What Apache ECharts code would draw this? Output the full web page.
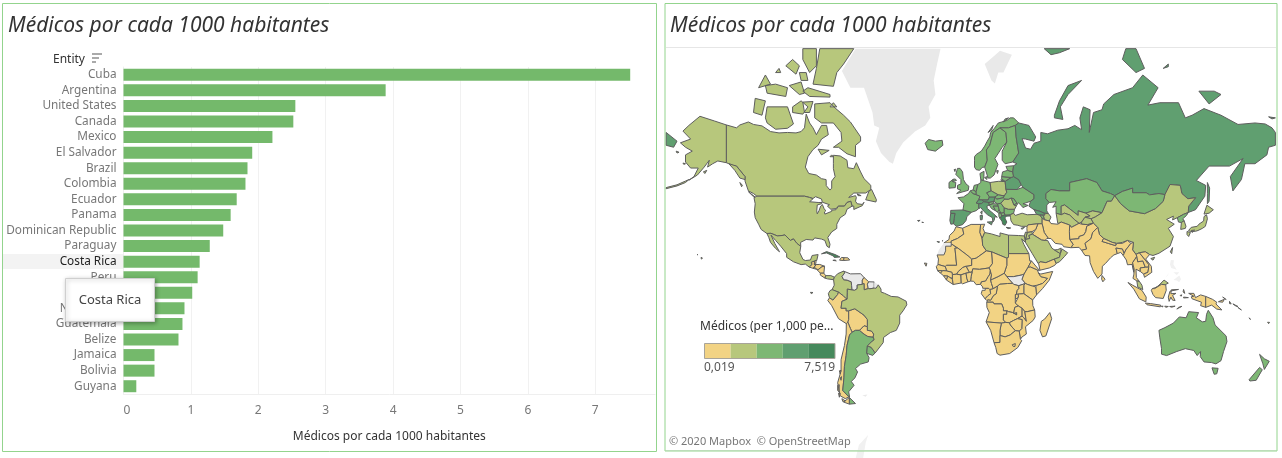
<!DOCTYPE html>
<html>
<head>
<meta charset="utf-8">
<style>html,body{margin:0;padding:0;background:#fff}#chart{width:1282px;height:458px}</style>
<script src="https://cdn.jsdelivr.net/npm/echarts@6/dist/echarts.min.js"></script>
</head>
<body>
<div id="chart"></div>
<script>
// Physicians per 1000 inhabitants, ranked
const entities = ['Cuba','Argentina','United States','Canada','Mexico','El Salvador','Brazil','Colombia','Ecuador','Panama','Dominican Republic','Paraguay','Costa Rica','Peru','Chile','Nicaragua','Guatemala','Belize','Jamaica','Bolivia','Guyana'];
const physicians = [7.519,3.89,2.55,2.52,2.21,1.91,1.84,1.81,1.68,1.59,1.48,1.28,1.13,1.10,1.02,0.905,0.875,0.816,0.46,0.46,0.19];

// Countries outside the ranking, grouped by the colour band they fall in
const bandOneNames = ['Honduras','Haiti','Morocco','Mauritania','Algeria','Tunisia','Sudan','Eritrea','Ethiopia','Somalia','Kenya','Uganda','Tanzania','Rwanda','DR Congo','Congo','Gabon','Cameroon','Central African Rep.','Chad','Niger','Nigeria','Mali','Burkina Faso','Senegal','Guinea-Bissau','Guinea','Sierra Leone','Liberia','Ivory Coast','Ghana','Benin','Angola','Zambia','Malawi','Mozambique','Zimbabwe','Botswana','Namibia','South Africa','Lesotho','Madagascar','Cape Verde','Iran','Iraq','Syria','Afghanistan','Pakistan','India','Nepal','Bangladesh','Sri Lanka','Myanmar','Thailand','Laos','Cambodia','Vietnam','Indonesia','Papua New Guinea','Yemen'];
const bandOneValues = [0.31,0.23,0.73,0.18,1.19,1.27,0.41,0.06,0.1,0.03,0.2,0.17,0.04,0.13,0.07,0.12,0.36,0.09,0.06,0.05,0.05,0.38,0.13,0.05,0.07,0.13,0.08,0.03,0.04,0.23,0.1,0.06,0.21,0.12,0.04,0.07,0.21,0.53,0.42,0.91,0.07,0.14,0.78,1.16,0.82,1.22,0.28,0.98,0.78,0.65,0.53,0.96,0.68,0.81,0.5,0.17,1.19,0.38,0.07,0.31];
const bandTwoNames = ['Libya','Egypt','Turkey','Saudi Arabia','Oman','United Arab Emirates','Uzbekistan','Turkmenistan','Kyrgyzstan','Tajikistan','Jordan','China','Japan','South Korea','Taiwan','Malaysia','Poland','Romania','Israel','Azerbaijan','Fiji','Solomon Islands','Vanuatu'];
const bandTwoValues = [2.16,2.38,1.85,2.61,1.97,2.53,2.37,2.27,1.88,1.7,2.34,1.98,2.41,2.36,2.2,1.54,2.38,2.67,2.95,2.9,1.6,1.55,1.6];
const bandThreeNames = ['Uruguay','Australia','New Zealand','United Kingdom','Ireland','Iceland','Norway','Sweden','Finland','Denmark','Germany','France','Belgium','Netherlands','Kazakhstan','Mongolia','North Korea','Ukraine','Estonia','Latvia','Lithuania','Czechia','Slovakia','Hungary','Slovenia','Croatia','Bosnia','Serbia','Bulgaria','Moldova','Armenia','Albania','North Macedonia','Montenegro','Cyprus'];
const bandThreeValues = [3.9,3.5,3.03,3.16,3.31,3.82,4.4,3.98,3.81,4.01,4.19,3.27,3.32,3.61,3.98,3.26,3.67,3.05,3.4,3.2,4.4,3.69,3.42,3.31,3.09,3.05,3.1,3.11,3.99,3.1,3.05,3.1,3.05,3.05,3.1];
const bandFourNames = ['Russia','Spain','Portugal','Italy','Switzerland','Austria','Belarus','Georgia'];
const bandFourValues = [4.6,4.6,4.7,4.55,4.6,5.2,5.19,5.1];
const bandFiveNames = ['Greece'];
const bandFiveValues = [6.2];
// Land with no reported figure; the bordered ones sit between reporting neighbours
const noDataNames = ['Greenland','Svalbard','Western Sahara','South Sudan','Venezuela','Suriname','French Guiana','Philippines','Falkland Islands','Antarctica'];
const noDataBordered = ['South Sudan','Venezuela','Suriname'];
const noDataFaint = ['Philippines','Antarctica'];

// Colour ramp and the figures printed under it
const rampColors = ['#F2D384','#B7C77C','#7DB774','#609F70','#46895C'];
const rampBreaks = [0.019,1.519,3.019,4.519,6.019,7.519];
const rampLabels = ['0,019','7,519'];

// Country outlines in lon/lat; each string is one ring
const outlines = {
'Greenland':['-73 78.2,-68 76,-60 76,-55 72,-54 69.5,-51 69,-53 66,-50 63,-45 60.5,-43 60,-41 63,-37 65.7,-30 68.2,-24 69.5,-21 71,-22 73,-18 75,-19 77,-17 79,-15 80.6,-65 80.6'],
'Svalbard':['11 79,15 77,17 76.6,19 78,22 78,27 80,20 80.4,16 79.8'],
'Antarctica':['-57.5 -64,-59 -66,-62 -72.3,-67 -72.3,-63 -66.5'],
'Canada':[
'-141 69.6,-135 69,-133 69.6,-128 70.2,-125 69.7,-120 69.4,-115 68.2,-110 67.9,-105 68,-100 67.9,-97 68.2,-95 69,-94 71.7,-92 70,-90 69,-88 67.5,-85 69.5,-82 69.5,-81 67.5,-85 66.5,-87 65,-90 63.9,-93 62,-94.5 59,-92.5 57,-88 56.5,-85 55.3,-82.3 55,-82.2 52.9,-80 51.3,-79 52,-79 54.5,-77 56,-78 58.5,-78 60,-78 62.4,-74 62.2,-70 61,-69.5 58.8,-66 58.5,-64.5 60.3,-62 57.5,-60 55.3,-56 53,-56 51.5,-59 50.2,-66 50.2,-69 48.5,-65 49.2,-64.5 48.5,-65 47,-64 46,-61 45.7,-60 46.6,-61 45.2,-66 43.6,-66 45,-67 45,-67.8 47,-70 46.5,-71.5 45,-75 45,-76.5 44,-79.5 43.7,-81.5 45,-80.3 45.6,-84.5 46.6,-85 47.9,-88.5 48.8,-90 48.1,-92 48.5,-95 49,-123 49,-125 50,-128 51,-130 54.5,-130 56,-135 59.3,-137 59.5,-139.5 60,-141 60.3',
'-65 62,-70 62.8,-75 64.5,-78 64.5,-73 66,-73.5 68,-78 70,-85 70,-89 71,-89 73.5,-80 73.7,-77 72.8,-72 71.5,-68 70.2,-62 67,-62 66,-65 65',
'-117 70,-112 68.7,-105 68.9,-101.5 69.8,-105 73,-110 73,-117 73,-118 71',
'-125 72,-120 71.5,-118 74,-124 74.4',
'-117 75.2,-106 74.7,-105 76,-112 76.5,-118 76.3',
'-102 72,-96 71.7,-93 73,-97 74,-102 73',
'-96 73.8,-90 73.9,-92 72,-95 72',
'-93 76,-80 75,-80 74.6,-92 74.7,-96 75.5',
'-90 76.5,-78 76.2,-76 78,-72 79,-66 80.6,-86 80.6,-88 78.5',
'-96 80.6,-88 80.6,-88 78.8,-92 78,-96 79.5',
'-87 64,-80.5 63.7,-85 62.5',
'-104 76.3,-98 75,-95 75.2,-97 76.8',
'-122 76,-115 76.5,-118 77.7',
'-106 78.8,-100 77.8,-98 78.8,-102 79.5',
'-98 78,-94 78,-93 77,-97 77',
'-112 78,-109 78,-110 78.5',
'-80 73,-76 73,-78 73.7',
'-59 47.6,-53 46.7,-52.7 47.6,-55.5 51.5,-57 51',
'-128 50.7,-123.5 48.4,-125 48.8',
'-133 54,-131.5 53,-132 52.5',
'-64 49.9,-61.7 49.2,-63.5 49.2',
'-79 62.5,-78 62,-80 62'],
'United States':[
'-95 49,-123 49,-124.7 48.4,-124 46,-124.5 42.5,-124 40,-122 37,-120.5 34.5,-117.1 32.5,-114.7 32.6,-111 31.3,-108.2 31.5,-106.5 31.8,-103.3 29,-101.5 29.8,-99.5 27.5,-97.2 25.9,-97.3 28,-94 29.5,-90 29.2,-89 30.3,-85 29.7,-83 29,-81.8 26,-80.4 25.2,-80 27,-81.3 30.5,-79 33.3,-76 35,-76 37,-74 40,-71 41.5,-70 43.7,-67 45,-67.8 47,-70 46.5,-71.5 45,-75 45,-76.5 43.5,-79 43.3,-79 42.8,-83 41.6,-83.3 42.5,-82.5 43,-83.5 44,-84.5 45.7,-85.5 45,-86.5 43,-87.5 41.7,-87.8 43,-87.5 45.5,-85 46,-84.7 46.5,-87 46.5,-90 46.7,-92 46.8,-90 48,-92 48.5',
'-141 69.6,-141 60.3,-146 60.8,-149 60,-152 59,-151 61,-154 59,-158 56.5,-163 54.8,-160 56,-157.5 58.7,-162 58.7,-165 60.5,-165 62.5,-161 63.5,-165 64.5,-168 65.6,-162 66.5,-166.5 68.3,-163 69.5,-156.5 71.3,-148 70.4',
'-139.5 60,-135 59.3,-130 56,-130 55,-133 55.5,-136 58',
'-154.5 57.5,-152.5 58,-153.5 57',
'-176.4 51.8,-170 52.8,-165 54,-163 55,-165 54.5,-170 53.2,-176.4 52.2',
'-155.8 20,-155 19.5,-155.7 19',
'-158.2 21.5,-157.7 21.4,-158 21.2',
'-170.5 63.5,-168.8 63.2,-170 63',
'-166.5 60.2,-165 60,-166 59.8'],
'Mexico':['-117.1 32.5,-114.7 32.6,-111 31.3,-108.2 31.5,-106.5 31.8,-103.3 29,-101.5 29.8,-99.5 27.5,-97.2 25.9,-97.8 22.5,-95.9 18.8,-94.5 18.2,-91.5 18.5,-90.5 21,-87 21.5,-87.8 18.2,-89.1 17.9,-91 17.2,-90.5 16,-92.2 14.5,-94.5 16.2,-97 15.9,-101.5 17.5,-105.5 20,-105.5 22,-109 26,-112 29,-114.7 31.7,-112.5 27.5,-110.3 24,-109.7 23,-112 24.8,-115 28,-116 30.5'],
'Guatemala':['-92.2 14.5,-90.5 16,-91 17.2,-89.1 17.9,-89.2 15.9,-88.3 15.7,-89.3 14.4,-90 13.8'],
'Belize':['-89.1 17.9,-88.2 18.4,-88.3 16.5,-89.2 15.9'],
'El Salvador':['-90 13.8,-89.3 14.4,-87.8 13.9,-87.8 13.2'],
'Honduras':['-89.2 15.9,-86 16,-83.2 15,-84.7 14.7,-87 13,-87.8 13.4,-87.8 13.9,-89.3 14.4,-88.3 15.7'],
'Nicaragua':['-87 13,-84.7 14.7,-83.2 15,-83.6 11,-85.7 11,-87.5 12.9'],
'Costa Rica':['-85.7 11,-83.6 11,-82.6 9.6,-82.9 8.1,-85.7 9.9'],
'Panama':['-82.9 8.1,-82.6 9.6,-79.5 9.6,-77.4 8.7,-77.9 7.2,-80 7.5,-81.5 7.7'],
'Cuba':['-85 21.9,-82 23.1,-77 21.5,-74.2 20.2,-77.5 19.9,-78 20.7,-82 22.4'],
'Haiti':['-74.4 18.4,-72 18.2,-71.7 19.8,-73.3 19.9'],
'Dominican Republic':['-71.7 19.8,-72 18.2,-68.4 18.5,-69.5 19.7'],
'Jamaica':['-78.3 18.3,-76.3 18,-77 18.5'],
'Colombia':['-77.4 8.7,-75.5 10.7,-72 12.2,-71.3 11.2,-72.9 9.1,-72 7.2,-70 7,-67.5 6,-67.3 3.9,-67 1.2,-69.8 1.7,-69.8 -0.5,-69.9 -4.2,-70.7 -3.8,-72 -2.4,-75 -0.1,-78.8 1.4,-77.5 4,-77.9 7.2'],
'Venezuela':['-72 12.2,-68 10.6,-62 10.7,-60 8.5,-61 7,-61 4.5,-64 4.1,-64 2,-65.5 1,-67 1.2,-67.3 3.9,-67.5 6,-70 7,-72 7.2,-72.9 9.1,-71.3 11.2'],
'Guyana':['-60 8.5,-57.2 6,-58 4.6,-57.5 2,-59.9 1.3,-60 5,-61 4.5,-61 7'],
'Suriname':['-57.2 6,-54 5.9,-54 2.3,-56.5 1.9,-57.5 2,-58 4.6'],
'French Guiana':['-54 5.9,-51.6 4.2,-52.9 2.2,-54 2.3'],
'Ecuador':['-78.8 1.4,-75 -0.1,-75.5 -1.5,-78.3 -4.8,-80.3 -3.4,-81 -1,-80 0.8','-91.5 -0.2,-90 -0.3,-91 -1'],
'Peru':['-75 -0.1,-72 -2.4,-70.7 -3.8,-69.9 -4.2,-73 -5.5,-73.5 -9.5,-70.5 -9.5,-70.5 -11,-69 -11,-69 -16,-69.5 -17.5,-70.4 -18.3,-75 -15.5,-79 -8,-81.3 -5,-80.3 -3.4,-78.3 -4.8,-75.5 -1.5'],
'Bolivia':['-69 -11,-65.4 -9.8,-60 -13.5,-58 -16,-58 -20,-60 -19.5,-62.6 -22,-65 -22,-67 -23,-68 -21,-69.5 -17.5,-69 -16'],
'Chile':['-70.4 -18.3,-69.5 -17.5,-68 -21,-67 -23,-68.5 -24.5,-70 -30,-70.5 -35,-71.5 -40,-71.8 -45,-72.5 -50,-69.5 -52,-68.5 -52.3,-71 -53,-74 -52,-75.5 -47,-73.5 -42,-73.5 -37,-71.5 -30,-70.5 -24','-68.6 -52.6,-68.6 -54.9,-72 -54.2','-74.5 -42,-73.5 -41.8,-74 -43.4','-75.5 -48,-74.5 -47.8,-74.8 -50.5,-75.5 -50','-74 -45,-73.2 -44.5,-73.5 -46','-73 -53,-71 -53.8,-72.5 -54','-75 -51,-74 -51,-74.5 -52.5'],
'Argentina':['-67 -23,-65 -22,-62.6 -22,-60 -24,-57.7 -25.3,-54.6 -25.6,-54 -27,-55.8 -28.3,-58 -30.2,-58.4 -33.9,-57 -36,-57.5 -38,-62 -39,-65 -41,-63.8 -42.5,-65.3 -45,-67.5 -46.5,-65.8 -48,-69 -50.5,-68.5 -52.3,-69.5 -52,-72.5 -50,-71.8 -45,-71.5 -40,-70.5 -35,-70 -30,-68.5 -24.5','-68.6 -52.6,-65 -54.7,-68.6 -54.9'],
'Paraguay':['-62.6 -22,-60 -19.5,-58 -20,-58 -22,-55.7 -22.3,-54.3 -24,-54.6 -25.6,-57.7 -25.3,-60 -24'],
'Uruguay':['-58 -30.2,-55.8 -30.9,-53.4 -33.7,-54.9 -34.9,-58.4 -33.9'],
'Brazil':['-60 5,-59.9 1.3,-57.5 2,-56.5 1.9,-54 2.3,-52.9 2.2,-51.6 4.2,-50 1.7,-50 0,-48 -0.7,-44 -2.6,-40 -2.9,-35.2 -5.4,-34.8 -7.5,-37 -11,-39 -13.5,-39 -18,-41 -22,-44.5 -23.2,-48.5 -25.8,-48.7 -28.5,-53.4 -33.7,-55.8 -30.9,-58 -30.2,-55.8 -28.3,-54 -27,-54.6 -25.6,-54.3 -24,-55.7 -22.3,-58 -22,-58 -20,-58 -16,-60 -13.5,-65.4 -9.8,-69 -11,-70.5 -11,-70.5 -9.5,-73.5 -9.5,-73 -5.5,-69.9 -4.2,-69.8 -0.5,-69.8 1.7,-67 1.2,-65.5 1,-64 2,-64 4.1,-61 4.5'],
'Falkland Islands':['-61 -51.8,-58 -51.5,-59 -52.3'],
'Iceland':['-24 65.5,-22 66.4,-18 66,-14 66.2,-13.6 65,-18 63.5,-22.5 63.9'],
'United Kingdom':['-5.5 50,1.3 51.2,1.7 52.7,0 53.5,-1.5 55,-2 57.5,-3.5 58.6,-5 58.6,-6 56.7,-3 55,-3 53.5,-5 53,-5 51.7,-3 51.3','-8 54.3,-5.6 54.7,-6.3 55.2,-7.5 55.1','-7 58.2,-6.2 58.4,-6.5 57.6'],
'Ireland':['-10 52,-6.3 52.2,-6 54,-8 54.3,-7.5 55.1,-10 54'],
'Spain':['-9 43.2,-1.8 43.4,3.2 42.4,0.5 40.5,0 38.7,-2 36.8,-5.5 36,-7.4 37.2,-7 39.5,-6.5 41.9,-9 41.9','-17 28.5,-15.5 28.2,-16.5 28','-14 28.7,-13.5 29,-14 28.2'],
'Portugal':['-9 41.9,-6.5 41.9,-7 39.5,-7.4 37.2,-8.9 37,-9.5 38.7','-28.5 38.7,-27 38.8,-28 38.3','-26 37.9,-25 37.8,-25.5 37.6'],
'France':['-1.8 43.4,-1.2 46,-4.7 48.4,-1.5 48.7,1.5 50,2.5 51,4.2 50,6 49.6,8.2 49,7.5 47.6,6 46.3,7.5 46,7.5 44,6 43.1,3.2 42.4','8.6 42.5,9.5 43,9.3 41.5'],
'Belgium':['2.5 51,4.2 51.4,6 50.7,6 49.6,4.2 50'],
'Netherlands':['4.2 51.4,4.8 53,7 53.3,6 50.7'],
'Germany':['6 50.7,7 53.3,8.7 54,8.7 55,10 54.7,14.2 54,14.8 51,12.2 50.3,13.8 48.7,13 47.5,7.5 47.6,8.2 49,6 49.6'],
'Denmark':['8.7 55,8.2 57,10.6 57.7,10.5 55.5,10 54.7','11 55.7,12.5 56,12.2 55'],
'Switzerland':['6 46.3,7.5 47.6,9.6 47.5,10.4 46.8,9 46,7.5 46'],
'Austria':['9.6 47.5,13 47.5,13.8 48.7,17 48.7,16.5 46.9,13.5 46.5,10.4 46.8'],
'Italy':['7.5 46,9 46,10.4 46.8,13.5 46.5,13.7 45.5,12.3 45,12.5 44,16 41.9,18.4 40.2,17 40.5,16.6 38.9,15.8 38,15.5 40,12.5 41.4,10.3 43,8.7 44.4,7.5 44','12.5 38,15.6 38.2,15 36.7','8.3 41,9.7 41,9.5 39.1,8.5 39'],
'Poland':['14.2 54,19 54.4,23 54.4,23.5 51.6,24 50.5,22.5 49.1,19 49.5,14.8 51'],
'Czechia':['12.2 50.3,14.8 51,19 49.5,17 48.7,13.8 48.7'],
'Slovakia':['17 48.7,19 49.5,22.5 49.1,22 48.4,18 47.8'],
'Hungary':['16.5 46.9,17 48.7,18 47.8,22 48.4,22.8 47.9,20.5 46.2,18.5 45.9'],
'Slovenia':['13.7 45.5,13.5 46.5,16.5 46.9,16 46'],
'Croatia':['13.7 45.5,16 46,18.5 45.9,19 45,16 45,17.5 43,15 44'],
'Bosnia':['16 45,19 45,19.5 43.5,18.5 42.5,17.5 43'],
'Serbia':['19 45,18.5 45.9,20.5 46.2,22.5 44.3,22.5 42.2,20.6 42,20 42.6,19.5 43.5'],
'Montenegro':['18.5 42.5,19.5 43.5,20 42.6,19.3 41.9'],
'Albania':['19.3 41.9,20.6 42,21 40.8,20 39.7,19.4 40.5'],
'North Macedonia':['20.6 42,22.5 42.2,23 41.2,21 40.8'],
'Greece':['20 39.7,21 40.8,23 41.2,26 41.3,26 40.8,24 40.7,22.8 40,24 38,23 36.5,21.7 36.9,21.2 38.3','23.6 35.5,26.3 35.2,24.8 34.9'],
'Bulgaria':['22.5 42.2,22.5 44.3,25 43.7,28.6 43.7,28 42,26 41.3,23 41.2'],
'Romania':['20.5 46.2,22.8 47.9,24.9 47.8,26.6 48.3,28.2 45.5,29.7 45.2,28.6 43.7,25 43.7,22.5 44.3'],
'Moldova':['26.6 48.3,28.2 48,30 46.2,28.2 45.5'],
'Ukraine':['24 50.5,23.5 51.6,30 51.5,33.5 52.3,40 49.6,40 48,38 47,35 46.3,33.5 46,36.5 45.3,33.5 44.4,32.5 45.3,30.8 46.4,29.7 45.2,28.2 45.5,30 46.2,28.2 48,26.6 48.3,24.9 47.8,22.8 47.9,22 48.4,22.5 49.1'],
'Belarus':['23.5 51.6,23 54.4,26.5 55.7,28 56,31 55,32.5 53.2,30 51.5'],
'Lithuania':['21 56,26.5 55.7,23 54.4,21 55.2'],
'Latvia':['21 56,21.5 57.5,24.5 58,27.5 57.5,28 56,26.5 55.7'],
'Estonia':['23.5 59.2,28 59.4,27.5 57.5,24.5 58'],
'Norway':['5 61,5 59,6 58.2,8 58,9.5 58.9,11 59,12.5 61,12 63.8,14 65,16 68,20 69,25 69,29 69.5,31 70,28 71,26 71,24 70.5,21 70.2,19 70,16.5 68.8,14.5 68,14 67,12.5 66,11 64.8,9 63.5,6 62.6,5 62','16 69.5,15 68.5,13 68','23 70.8,25 71,22 70.2'],
'Sweden':['11 59,13 55.5,14.3 55.5,16.5 56.5,18.8 59.8,17 61.5,21.3 64.5,24 65.8,23.5 68,20 69,16 68,14 65,12 63.8,12.5 61','18 57.9,19 57.9,18.5 57'],
'Finland':['24 65.8,21.3 63.5,21.3 61,23 60,27.5 60.5,31 63,29.5 67,29 69.5,25 69,20 69,23.5 68'],
'Russia':[
'31 70,37 69.5,41 67,40 66,35 66.5,33 66.6,35 64.3,38 64,40 65.5,44 66,44 68,48 67.7,54 68.5,60 68.8,64 69.5,68 68.6,67 71,69 73,73 72.5,72.5 68,75 72,80 72.5,81 73.5,87 75,98 76,104 77.7,113 76,107 73.3,114 73.7,125 73.7,129 71,133 71.5,140 72.7,150 71.5,160 69.7,170 70,176 69.8,180 69,182 68,182 65,178 64.5,177 62.5,170 60,164 60,163 57.5,162 55,157 51,155.5 56,163 61.5,155 59.3,143 59.3,135.5 54.7,141 53,140.5 49,135 43.5,130.7 42.3,131 45,135 48.4,130.5 48,127 50,126 53,120 53.3,117 49.6,113.5 50,108 49.5,106 50.3,98 50.3,98 52,92 50.8,87.5 49.2,85 50,80 51,77 54,71 55.3,61 54,61 51,55 51,50 51.5,47 50,47 48,49 46.5,47.5 45.5,47.5 43,48.5 41.8,46 42,43.5 42.8,40 43.5,37 45,38 47,40 48,40 49.6,33.5 52.3,32.5 53.2,31 55,28 56,27.5 57.5,28 59.4,30 60,27.5 60.5,31 63,29.5 67,29 69.5',
'-176.4 68,-170 66,-172 64.5,-176.4 65',
'52 71,57 70.7,55.5 73,60 75,68 77,60 76.3,55 74,52 71.5',
'142 54,143.3 52,143 47,142 46,142 50',
'92 79.5,100 78,105 78.5,100 80.6,94 80.6',
'46 80.6,50 80,55 80.2,61 80.6',
'137 75.5,143 73.5,150 75,146 75.5',
'178 71.2,182 71,180 70.8',
'20.5 55,22.7 54.4,21 54.4',
'119 79,116 78.5,119 78.7'],
'Cyprus':['32.3 35,34.5 35.6,33 34.6'],
'Turkey':['26 40.8,26 41.3,28 42,29 41,33 42,36 41.3,41.5 41.5,43.5 41.2,44.8 39.7,44.8 37.2,42.3 37.2,36.5 36.7,36 36,32.5 36,30.5 36.5,28 36.8,26.5 38.5,26.2 40'],
'Georgia':['40 43.5,43.5 42.8,46 42,46.5 41.2,43.5 41.2,41.5 41.5'],
'Armenia':['43.5 41.2,45.5 41,46.3 39,44.8 39.7'],
'Azerbaijan':['46 42,48.5 41.8,50 40.3,49 38.5,46.3 39,45.5 41,46.5 41.2'],
'Kazakhstan':['47 50,50 51.5,55 51,61 51,61 54,71 55.3,77 54,80 51,85 50,87.5 49.2,85.5 47,83 47,80 42.2,74.5 43,70.5 42,66 43,66 41,58 45.5,56 45,56 41.3,53 42,53 45,51 44.5,53 46.8,49 46.5,47 48'],
'Uzbekistan':['56 41.3,56 45,58 45.5,66 41,66 43,70.5 42,73 40.8,70 40.2,68 38,66.5 37.4,64 39,61 41.2,58 42'],
'Turkmenistan':['53 42,56 41.3,58 42,61 41.2,64 39,66.5 37.4,62 35.5,61 36.6,56 38,54 37.3,53.5 39.8,53 40'],
'Kyrgyzstan':['70.5 42,74.5 43,80 42.2,76 40.3,73.6 39.5,70 40.2,73 40.8'],
'Tajikistan':['68 38,70 40.2,73.6 39.5,75 37.5,71.5 36.8,68 37'],
'Afghanistan':['61 36.6,62 35.5,66.5 37.4,68 37,71.5 36.8,75 37.5,71 36,70.5 33.5,69.3 31.8,66.5 31,66.4 29.9,61 29.5,60.8 33.5'],
'Pakistan':['61 29.5,66.4 29.9,66.5 31,69.3 31.8,70.5 33.5,71 36,75 37.5,77.5 35.5,74.5 33,73.5 29.9,70 27.5,71 24.5,68 23.8,66.5 25.4,61.7 25.2,63 27'],
'Iran':['44.8 39.7,46.3 39,49 38.5,50 37.3,54 37,56 38,61 36.6,60.8 33.5,61 29.5,63 27,61.7 25.2,57.5 25.7,56.5 27,52.5 27.5,50 30,48.5 30,46 33,44.8 37.2'],
'Iraq':['42.3 37.2,44.8 37.2,46 33,48.5 30,47.5 30,46.5 29,44.5 29.2,39 32.2,41 34.5'],
'Syria':['36 36,36.5 36.7,42.3 37.2,41 34.5,38.8 33.4,36 33,35.8 35'],
'Jordan':['39 32.2,38.8 33.4,36 33,35 29.5,37.5 30,37 31.5'],
'Israel':['34.3 31.3,35 33.2,36 33,35 29.5'],
'Saudi Arabia':['37 31.5,37.5 30,35 29.5,35 28,39 22,42.5 16.5,43.5 17.5,47 17,52 19,55 20,55.5 22,52 24,50.5 25,48 29,46.5 29,44.5 29.2,39 32.2'],
'Yemen':['42.7 16.5,43.5 12.7,49 14,52.2 15.5,53 16.6,52 19,47 17,43.5 17.5'],
'Oman':['52 19,53 16.6,55 17.5,58 20.5,59.8 22.5,56.5 24.5,56 25,55.5 22,55 20'],
'United Arab Emirates':['52 24,55.5 22,56 25,54 24.2'],
'China':['73.6 39.5,76 40.3,80 42.2,83 47,85.5 47,87.5 49.2,91 46,96 43,105 41.8,111.5 44,116 47,117 49.6,120 53.3,126 53,127 50,130.5 48,135 48.4,131 45,130.7 42.3,128 41.5,124.3 40,121.5 39,122 40.7,118 39.2,122.5 37,119 35,122 31,120 26,113.5 22.2,110 21,108 21.5,105.5 23,102 22.5,100 21.6,98 24,98.5 28,95 29,92 28,88.8 27.5,86 28,81 30,78.5 32,77.5 35.5,75 37.5','108.7 19.3,111 20,110 18.4'],
'Mongolia':['87.5 49.2,92 50.8,98 52,98 50.3,106 50.3,108 49.5,113.5 50,117 49.6,116 47,111.5 44,105 41.8,96 43,91 46'],
'North Korea':['124.3 40,128 41.5,130.7 42.3,129.7 41,127.5 39.5,128.3 38.6,126.7 37.8,125 38'],
'South Korea':['126.7 37.8,128.3 38.6,129.4 36,129 35,126.3 34.5'],
'Japan':['130.9 34,132.5 35.5,136 36,137 37,139.8 38.5,140 40.5,141.5 41.3,142 39.5,140.8 36,139 35,136.5 34,135 33.6,132 33.5','130 33.5,132 33,131 31,130 32','140 41.6,141.7 45.4,145.5 43.5,143 42','132.5 34,134.5 34.2,133 33'],
'Taiwan':['120.2 23,121.5 25.3,121 22'],
'India':['68 23.8,71 24.5,70 27.5,73.5 29.9,74.5 33,77.5 35.5,78.5 32,81 30,80 28.5,84 27.4,88 26.3,88.8 27.5,92 27.5,95 29,97 27.5,94 24,93 22,92 24.5,88.2 25,89 22,87 21.3,85 19.7,82 16.5,80.2 15,80 10.5,77.5 8,75 12,73 17,72.7 20.8,70 21'],
'Bangladesh':['88.2 25,92 24.5,93 22,92.5 21,91 22.7,89 22'],
'Nepal':['80 28.5,81 30,86 28,88.2 27.5,88 26.3,84 27.4'],
'Sri Lanka':['80 9.7,81.8 7.5,80.5 6,79.8 7.5'],
'Myanmar':['93 22,94 24,97 27.5,98.5 28,98 24,100 21.6,100.5 20.5,98 17,98.7 11.5,97.7 16,95 15.8,94.3 18.5,92.5 21'],
'Thailand':['98.7 10,98.2 8,100.5 6.5,102 6.2,100.2 8.5,100 13.3,102.5 12,102.5 14,105.5 14.4,104 18,101 17.5,100.5 20.5,98 17,99 13'],
'Laos':['100.5 20.5,100 21.6,102 22.5,105 19,107.5 16,107.5 14.5,105.5 14.4,104 18,101 17.5'],
'Cambodia':['102.5 12,104.5 10.5,107 11.5,107.5 14.5,105.5 14.4,102.5 14'],
'Vietnam':['102 22.5,105.5 23,108 21.5,105.7 19,109 15,109.3 11.5,105 8.6,104.5 10.5,107 11.5,107.5 14.5,107.5 16,105 19'],
'Malaysia':['100.5 6.5,102 6.2,103.5 4,104 1.4,101 3','109.6 2,111 2,115 4.5,117 4.2,119 5.2,116.5 7,113 3.5,111.2 2.5'],
'Indonesia':['95.3 5.6,98 4,103.5 1,106 -3,105.8 -5.8,102 -4,98.7 1.7','105.5 -6.5,108.6 -6.8,114.5 -7.7,114.3 -8.7,106.5 -7.5','109 1,109.6 2,111 2,115 4.5,117.5 4.2,117.8 1,116 -3.8,111.5 -3.3,110 -1.5','119.5 -5.5,120.5 -3,121.5 -4.8,123 -5,121.5 -2,123.5 -0.8,120.5 -1,120.8 1.3,125 1.5,120 0.5,119 -3','131 -0.8,134 -0.8,135 -3.3,138 -1.7,141 -2.6,141 -9,138 -8,138.5 -6,133 -4,132.5 -2.8,134 -2.5','124 -10,127 -8.4,125 -9','119.8 -8.5,123 -8.3,121 -8.9','116.9 -8.3,119 -8.5,117.5 -9','128 1.5,128.7 -0.8,127.7 0','128 -3,130.8 -3.3,128 -3.5','115 -8.2,116 -8.4,115.3 -8.8','126 -2,127 -1.7,126.5 -2.5'],
'Papua New Guinea':['141 -2.6,145 -4.3,147.5 -6,147 -7,150.5 -10.5,147.5 -10,144.5 -7.7,141 -9','148.5 -5.7,152 -4.3,151 -6','151 -3,153 -4.5,152 -3.5'],
'Solomon Islands':['155 -5.5,156 -7,155 -6.8','157 -7,160 -8.5,159 -8.4','160 -9,162 -10.5,161 -10'],
'Vanuatu':['166.6 -15,167.3 -16,166.8 -15.9'],
'Philippines':['120.5 18.5,122.3 18.4,122 16,124 13,120.7 14,120 16','122 7,125.5 9.7,126.5 7.5,125.4 5.7,124 6.7','122 11.5,125.5 11.5,124 10','117.2 8.3,119.5 11.3,118.5 9.5'],
'Fiji':['177.4 -17.5,178.6 -17.6,178 -18.3'],
'Australia':['113.5 -22,114 -26,115 -31.5,115 -34.3,118 -35,124 -33,129 -31.6,134 -32.5,136 -35,138 -33,137.8 -35.5,140 -38,144.5 -38.3,147 -38.9,150 -37.4,151.5 -33,153.5 -28,153 -25,146.5 -19,145.3 -15,142.5 -10.7,141.5 -13,141 -17,139 -17.3,135.5 -15,136.8 -12,131 -11.5,129.5 -15,125.5 -14.5,122 -18,117 -20.5','144.7 -40.7,148.3 -40.9,147.5 -43.3,146 -43.5'],
'New Zealand':['172.7 -34.4,175.5 -36.5,178.4 -37.7,175.5 -41.4,174.6 -38.8','172.7 -40.5,174.3 -41.5,170.7 -46,167 -46.3,166.5 -45.8'],
'Morocco':['-5.9 35.8,-2 35.1,-1.3 32.2,-5 30,-8.7 28.7,-8.7 27.7,-13 27.7,-10 29.5,-9.7 31.5,-7 33.7'],
'Western Sahara':['-8.7 27.7,-8.7 26,-12 26,-12 23.5,-13 21.3,-17 21.3,-16 24,-13 27.7'],
'Mauritania':['-17 21.3,-13 21.3,-12 23.5,-12 26,-8.7 26,-8.7 27.3,-4.8 25,-6.5 25,-5.5 15.5,-11.5 15.5,-12.2 14.8,-16.5 16,-16.2 19'],
'Algeria':['-2 35.1,3 36.9,8.6 36.9,8.2 33,9.5 30,9.8 26.5,12 23.5,6 19.5,3.3 19,1.2 20.8,-4.8 25,-8.7 27.3,-8.7 28.7,-5 30,-1.3 32.2'],
'Tunisia':['8.6 36.9,11 37,10 35,11 33,9.5 30,8.2 33'],
'Libya':['11 33,15 32.3,20 31,20 32.8,25 31.7,25 22,25 20,24 19.5,15 23,12 23.5,9.8 26.5,9.5 30'],
'Egypt':['25 31.7,31 31.5,34.3 31.3,35 28,32.7 29.8,34 27,37 22,25 22'],
'Sudan':['25 22,37 22,37.5 18,38.5 18,36.5 14.4,34.2 10.5,33 10,28 9,24 9,22.5 11,24 15.5,24 19.5,25 20'],
'South Sudan':['24 9,28 9,33 10,34.2 10.5,33 7.5,35 5,31 3.7,28 4.5,27.4 5.1'],
'Eritrea':['36.5 14.4,38.5 18,43.3 12.5,42 12.8,38 14.5'],
'Ethiopia':['34.2 10.5,36.5 14.4,38 14.5,42 12.8,42.7 11,44 9,48 8,45 5,42 4,39 3.5,36 4.5,35 5,33 7.5'],
'Somalia':['42.7 11,44 10.5,51 12,49 7,45 2,41.5 -1.7,41 3,42 4,45 5,48 8,44 9'],
'Kenya':['35 5,36 4.5,39 3.5,41 3,41.5 -1.7,39.2 -4.7,34 -1,34 4'],
'Uganda':['31 3.7,35 5,34 4,34 -1,29.6 -1.4,30 1,31 2'],
'Tanzania':['34 -1,39.2 -4.7,39.3 -8,40.4 -10.5,36 -11.5,34.6 -11.5,33 -9.5,30.7 -8.2,29 -6.5,30.8 -3,30.7 -1.2'],
'Rwanda':['29 -1.5,30.7 -1.2,30.8 -3,29 -4.4'],
'DR Congo':['12.2 -6,13 -4.5,14.5 -4.8,16.2 -2,17.8 -1,18.5 3.5,20 4.7,24.5 5,27.4 5.1,28 4.5,31 3.7,31 2,30 1,29.6 -1.4,29 -1.5,29 -4.4,29 -6.5,30.7 -8.2,28.7 -9,28 -12.5,29.8 -12,29.8 -13.4,27.5 -12,25 -11.5,24 -11,22 -11,22 -9.5,21 -7,16.5 -7,16 -6'],
'Congo':['11.2 -4,12.2 -5,13 -4.5,14.5 -4.8,16.2 -2,17.8 -1,18.5 3.5,16 2,14 1.5,14.5 -1,13 -2,12 -3'],
'Gabon':['9 -1,9.5 1,11.3 1,11.3 2.2,13.3 2.2,14 1.5,14.5 -1,13 -2,12 -3,11.2 -4'],
'Cameroon':['8.5 4.5,9.8 3,9.8 2.2,13.3 2.2,14 1.5,16 2,15 5,14.5 7,15 10,14.2 12.8,14 10.5,13 9,11.5 6.5,9 6'],
'Central African Rep.':['15 5,16 2,18.5 3.5,20 4.7,24.5 5,27.4 5.1,24 9,22.5 11,18.8 9,15.5 7.5,14.5 7'],
'Chad':['14.2 12.8,13.5 14,15.5 16.5,15 23,24 19.5,24 15.5,22.5 11,18.8 9,15.5 7.5,14.5 7,15 10'],
'Niger':['3.6 11.7,2 11.4,0 15,3.3 15.5,3.3 19,6 19.5,12 23.5,15 23,15.5 16.5,13.5 14,8 13.2,4 13.5'],
'Nigeria':['2.7 6.4,3 9,3.6 11.7,4 13.5,8 13.2,13.5 14,14.2 12.8,14 10.5,13 9,11.5 6.5,9 6,8.5 4.5,6 4.3,4.5 6.3'],
'Mali':['-12.2 14.8,-11.5 15.5,-5.5 15.5,-6.5 25,-4.8 25,1.2 20.8,3.3 19,3.3 15.5,0 15,-2 14.2,-4.5 12,-5.5 10.4,-8 10.2,-8.3 11.5,-11.4 12.3'],
'Burkina Faso':['-5.5 10.4,-4.5 12,-2 14.2,0 15,2 11.4,0 11,-3 10'],
'Senegal':['-17.5 14.7,-16.5 16,-12.2 14.8,-11.4 12.3,-13.7 12.5,-16.7 12.4'],
'Guinea-Bissau':['-16.7 12.4,-13.7 12.5,-15 11'],
'Guinea':['-13.7 12.5,-11.4 12.3,-8.3 11.5,-8 10.2,-7.8 8,-9.5 8.5,-10.7 9.3,-13.2 9.5,-15 11'],
'Sierra Leone':['-13.2 9.5,-10.7 9.3,-11.5 7'],
'Liberia':['-11.5 7,-10.7 9.3,-9.5 8.5,-8 7.5,-7.5 4.4'],
'Ivory Coast':['-8 7.5,-7.8 8,-8 10.2,-5.5 10.4,-3 10,-2.8 5.3,-7.5 4.4'],
'Ghana':['-3 10,0 11,0.5 8,1.2 6,-2 4.8,-2.8 5.3'],
'Benin':['0 11,2 11.4,3.6 11.7,3 9,2.7 6.4,1.2 6,0.5 8'],
'Cape Verde':['-24.5 16.8,-23 16.6,-23.5 15'],
'Angola':['12.2 -6,16 -6,16.5 -7,21 -7,22 -9.5,22 -11,24 -11,24 -13,22 -13,22 -16.2,23.4 -17.6,20.8 -18,11.8 -17.3,13.7 -12,12.3 -9'],
'Zambia':['22 -13,24 -13,24 -11,25 -11.5,27.5 -12,29.8 -13.4,29.8 -12,28 -12.5,28.7 -9,30.7 -8.2,33 -9.5,33 -14,30.2 -15.5,28 -16.5,25.5 -17.8,23.4 -17.6,22 -16.2'],
'Malawi':['33 -9.5,34.6 -11.5,35 -14,35.5 -17,34 -15,33 -14'],
'Mozambique':['40.4 -10.5,36 -11.5,34.6 -11.5,35 -14,35.5 -17,34 -15,33 -14,30.2 -15.5,33 -16,32.8 -21,31.3 -22.4,32 -26.8,33 -25.5,35.5 -24,35 -20,39.5 -16.5,40.7 -14.5'],
'Zimbabwe':['25.5 -17.8,28 -16.5,30.2 -15.5,33 -16,32.8 -21,31.3 -22.4,29 -22.2,26 -19'],
'Botswana':['20 -22,20.8 -18,23.4 -17.6,25.5 -17.8,26 -19,29 -22.2,26 -24.5,23 -25.5,20 -24.8'],
'Namibia':['11.8 -17.3,20.8 -18,20 -22,20 -28.4,16.5 -28.6,14.5 -22'],
'South Africa':['16.5 -28.6,20 -28.4,20 -24.8,23 -25.5,26 -24.5,29 -22.2,31.3 -22.4,32 -26.8,32.8 -27.5,30.5 -31,25.7 -34,20 -34.8,18.3 -34,17.5 -31'],
'Lesotho':['27.2 -29.6,29 -29,28.8 -30.5,27.8 -30.5'],
'Madagascar':['49.3 -12,50.4 -15.5,47 -25,45 -25.5,43.5 -22,44.3 -17,46.3 -15.7']
};

// Outline strings become GeoJSON features, closing every ring
const closeRing = text => {
  const pts = text.split(',').map(p => p.trim().split(/\s+/).map(Number));
  pts.push(pts[0]);
  return pts;
};
const worldGeo = {
  type: 'FeatureCollection',
  features: Object.keys(outlines).map(name => ({
    type: 'Feature',
    properties: { name },
    geometry: { type: 'MultiPolygon', coordinates: outlines[name].map(r => [closeRing(r)]) }
  }))
};
echarts.registerMap('world', worldGeo);

// Web Mercator in degrees
const DEG = Math.PI / 180;
const mercator = {
  project: p => [p[0], -Math.log(Math.tan(Math.PI / 4 + p[1] * DEG / 2)) / DEG],
  unproject: p => [p[0], (2 * Math.atan(Math.exp(-p[1] * DEG)) - Math.PI / 2) / DEG]
};

// Pixels per degree and the screen box the map occupies
const mapScale = 1.7, lon0X = 966, equatorY = 292;
const mapBox = { left: 666, top: 48, width: 612, height: 402 };
const boxTopLeft = mercator.unproject([(mapBox.left - lon0X) / mapScale, (mapBox.top - equatorY) / mapScale]);
const boxBottomRight = mercator.unproject([(mapBox.left + mapBox.width - lon0X) / mapScale, (mapBox.top + mapBox.height - equatorY) / mapScale]);

const zipValues = (names, values) => names.map((name, i) => ({ name, value: values[i] }));
const mapData = [
  ...zipValues(entities, physicians),
  ...zipValues(bandOneNames, bandOneValues),
  ...zipValues(bandTwoNames, bandTwoValues),
  ...zipValues(bandThreeNames, bandThreeValues),
  ...zipValues(bandFourNames, bandFourValues),
  ...zipValues(bandFiveNames, bandFiveValues)
];
noDataNames.forEach(name => mapData.push({
  name, value: NaN,
  itemStyle: {
    areaColor: noDataFaint.includes(name) ? '#F1F1F1' : '#E9E9E9',
    borderWidth: noDataBordered.includes(name) ? 1 : 0
  }
}));

const FONT = '"Noto Sans", sans-serif';
const PANEL_GREEN = '#93D48D';
const barColor = '#74B96B';
const panels = [[2.5, 3.5, 654, 448], [665, 3.5, 612, 447.5]];
const titleText = 'Médicos por cada 1000 habitantes';

const chrome = [];
// Highlighted row behind the hovered entity
chrome.push({ type: 'rect', z: 0, shape: { x: 3, y: 254, width: 121, height: 15 }, style: { fill: '#F3F3F3' } });
panels.forEach(p => chrome.push({ type: 'rect', z: 50, shape: { x: p[0], y: p[1], width: p[2], height: p[3] }, style: { fill: 'none', stroke: PANEL_GREEN, lineWidth: 1 } }));
[8, 670].forEach(x => chrome.push({ type: 'text', z: 50, x, y: 26, style: { text: titleText, font: 'italic 21px ' + FONT, fill: '#333', verticalAlign: 'middle' } }));
[47.5, 450.5].forEach(y => chrome.push({ type: 'line', z: 40, shape: { x1: 666, y1: y, x2: 1276, y2: y }, style: { stroke: '#E6E6E6', lineWidth: 1 } }));
// Field header and its sort glyph
chrome.push({ type: 'text', z: 50, x: 53, y: 59.5, style: { text: 'Entity', font: '12px ' + FONT, fill: '#333', verticalAlign: 'middle' } });
[[53.5, 10], [57.5, 7], [61.5, 4]].forEach(l => chrome.push({ type: 'rect', z: 50, shape: { x: 92, y: l[0], width: l[1], height: 1 }, style: { fill: '#555' } }));
// Tooltip card for the hovered row
chrome.push({ type: 'rect', z: 60, shape: { x: 65.5, y: 278.5, width: 89, height: 43 }, style: { fill: '#fff', stroke: '#CFCFCF', lineWidth: 1, shadowBlur: 4, shadowColor: 'rgba(0,0,0,0.3)', shadowOffsetX: 1, shadowOffsetY: 1 } });
chrome.push({ type: 'text', z: 61, x: 110, y: 300, style: { text: 'Costa Rica', font: '13px ' + FONT, fill: '#444', align: 'center', verticalAlign: 'middle' } });
// Map colour legend
chrome.push({ type: 'text', z: 50, x: 700, y: 327, style: { text: 'Médicos (per 1,000 pe...', font: '12px ' + FONT, fill: '#333', verticalAlign: 'middle' } });
rampColors.forEach((c, i) => chrome.push({ type: 'rect', z: 50, shape: { x: 704.5 + i * 26.1, y: 343.5, width: 26.1, height: 15 }, style: { fill: c } }));
chrome.push({ type: 'rect', z: 51, shape: { x: 704.5, y: 343.5, width: 130.5, height: 15 }, style: { fill: 'none', stroke: '#A8A49A', lineWidth: 1 } });
chrome.push({ type: 'text', z: 50, x: 704, y: 368, style: { text: rampLabels[0], font: '12px ' + FONT, fill: '#555', verticalAlign: 'middle' } });
chrome.push({ type: 'text', z: 50, x: 835, y: 368, style: { text: rampLabels[1], font: '12px ' + FONT, fill: '#555', align: 'right', verticalAlign: 'middle' } });
chrome.push({ type: 'text', z: 50, x: 669, y: 442, style: { text: '© 2020 Mapbox  © OpenStreetMap', font: '11px ' + FONT, fill: '#777', verticalAlign: 'middle' } });

const chart = echarts.init(document.getElementById('chart'), null, { renderer: 'canvas' });
chart.setOption({
  animation: false,
  backgroundColor: '#fff',
  textStyle: { fontFamily: FONT },
  graphic: { elements: chrome },
  grid: { left: 123.5, top: 67, width: 531.5, height: 327, containLabel: false },
  xAxis: {
    type: 'value', min: 0, max: 7.887, interval: 1,
    name: titleText, nameLocation: 'center', nameGap: 37,
    nameTextStyle: { fontSize: 12, color: '#333' },
    axisLine: { show: true, lineStyle: { color: '#EFEFEF' } },
    axisTick: { show: false },
    axisLabel: { color: '#777', fontSize: 12, margin: 11, showMaxLabel: false, alignMinLabel: 'left' },
    splitLine: { show: true, showMaxLine: false, showMinLine: false, lineStyle: { color: '#F1F1F1' } }
  },
  yAxis: {
    type: 'category', inverse: true, data: entities,
    axisLine: { show: true, lineStyle: { color: '#EFEFEF' } },
    axisTick: { show: false },
    axisLabel: {
      fontSize: 11.8, margin: 7, interval: 0, padding: [5, 0, 0, 0],
      color: v => v === 'Costa Rica' ? '#222' : '#777'
    }
  },
  visualMap: {
    show: false, type: 'piecewise', seriesIndex: 1,
    pieces: rampColors.map((color, i) => ({ min: rampBreaks[i], max: rampBreaks[i + 1], color })),
    outOfRange: { color: '#E9E9E9' }
  },
  series: [
    {
      type: 'bar', data: physicians, barWidth: 12, silent: true, z: 2,
      itemStyle: { color: barColor }
    },
    {
      type: 'map', map: 'world', projection: mercator, silent: true, roam: false,
      left: mapBox.left, top: mapBox.top, width: mapBox.width, height: mapBox.height,
      boundingCoords: [boxTopLeft, boxBottomRight],
      data: mapData,
      label: { show: false },
      emphasis: { disabled: true },
      select: { disabled: true },
      itemStyle: { areaColor: '#E9E9E9', borderColor: '#5E5E5E', borderWidth: 1 }
    }
  ]
});
</script>
</body>
</html>
